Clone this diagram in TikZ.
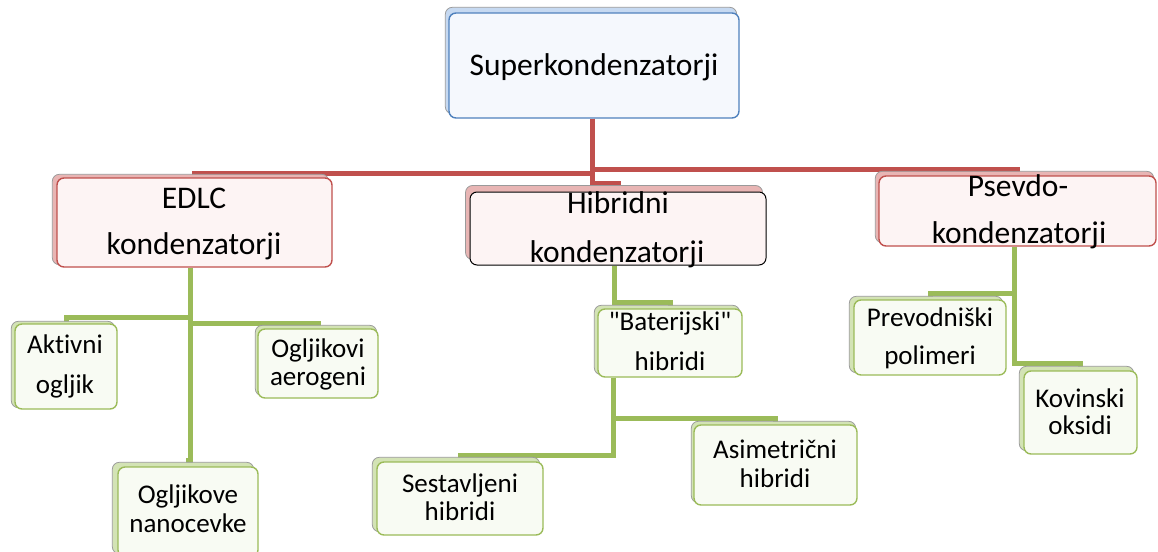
\documentclass[tikz,border=0pt]{standalone}
\usepackage{fontspec}
\setmainfont{Carlito}[Ligatures={TeXOff,NoCommon}]
\usetikzlibrary{calc}
\pgfdeclarelayer{lines}
\pgfdeclarelayer{backs}
\pgfsetlayers{lines,backs,main}
\definecolor{cred}{HTML}{C0504D}
\definecolor{cgreen}{HTML}{9BBB59}
\definecolor{cblue}{HTML}{4F81BD}
\definecolor{fblue}{HTML}{F5F8FD}
\definecolor{fred}{HTML}{FDF4F4}
\definecolor{fgreen}{HTML}{F8FBF3}
\definecolor{bblue}{HTML}{C6D9F1}
\definecolor{bred}{HTML}{E8B5B4}
\definecolor{bgreen}{HTML}{D3E3B5}
\definecolor{sgray}{HTML}{9A9A9A}
\tikzset{
  boxbase/.style={rectangle, rounded corners=7pt, inner sep=0pt, line width=1.4pt},
  bluebox/.style={boxbase, draw=cblue, fill=fblue},
  redbox/.style={boxbase, draw=cred, fill=fred},
  blackbox/.style={boxbase, draw=black, line width=1pt, fill=fred},
  greenbox/.style={boxbase, draw=cgreen, fill=fgreen},
  backbox/.style={rounded corners=7pt, draw=sgray, line width=0.8pt},
  bigtxt/.style={font=\fontsize{31.5}{31.5}\selectfont, anchor=base, inner sep=0pt},
  smalltxt/.style={font=\fontsize{27}{27}\selectfont, anchor=base, inner sep=0pt},
  rline/.style={draw=cred, line width=5pt},
  gline/.style={draw=cgreen, line width=5pt},
}
\newcommand{\backof}[3]{%
  \path[backbox, fill=#2] ($(#1.north west)+(#3)$) rectangle ($(#1.south east)+(#3)$);}
\begin{document}
\begin{tikzpicture}[x=1pt, y=-1pt]
\useasboundingbox (0,0) rectangle (1158,551);
% front boxes
\path
 node[bluebox, minimum width=290pt, minimum height=105pt] (sup) at (594,65.5) {}
 node[redbox, minimum width=275pt, minimum height=89pt] (edlc) at (194.5,222.5) {}
 node[blackbox, minimum width=296pt, minimum height=73pt] (hib) at (618,228.5) {}
 node[redbox, minimum width=277pt, minimum height=70pt] (psv) at (1017.5,211) {}
 node[greenbox, minimum width=102pt, minimum height=85pt] (akt) at (66,366.5) {}
 node[greenbox, minimum width=120pt, minimum height=69pt] (aer) at (318,363.5) {}
 node[greenbox, minimum width=140pt, minimum height=90pt] (nano) at (188,512) {}
 node[greenbox, minimum width=144pt, minimum height=68pt] (bat) at (670,343) {}
 node[greenbox, minimum width=166pt, minimum height=73pt] (ses) at (460,498.5) {}
 node[greenbox, minimum width=163pt, minimum height=80pt] (asi) at (775.5,465) {}
 node[greenbox, minimum width=152pt, minimum height=75pt] (prev) at (930,337.5) {}
 node[greenbox, minimum width=113pt, minimum height=83pt] (kov) at (1080.5,412.5) {};
% back (offset) boxes
\begin{pgfonlayer}{backs}
\backof{sup}{bblue}{-3,-5}
\backof{edlc}{bred}{-4,-3}
\backof{hib}{bred}{-4,-6}
\backof{psv}{bred}{-3,-4}
\backof{akt}{bgreen}{-3,-2}
\backof{aer}{bgreen}{-2,-3}
\backof{nano}{bgreen}{-5,-4}
\backof{bat}{bgreen}{-3,-3}
\backof{ses}{bgreen}{-4,-4}
\backof{asi}{bgreen}{-2,-3}
\backof{prev}{bgreen}{-4,-3}
\backof{kov}{bgreen}{-4,-4}
\end{pgfonlayer}
% connectors
\begin{pgfonlayer}{lines}
\draw[rline] ($(sup.south)+(-2,0)$) -- ++(0,55) -| (edlc.north);
\draw[rline] ($(sup.south)+(-2,0)$) -- ++(0,51) -| (psv.north);
\draw[rline] ($(sup.south)+(-2,0)$) -- ++(0,65) -| (hib.north);
\draw[gline] ($(edlc.south)+(-4,0)$) -- ++(0,50) -| (akt.north);
\draw[gline] ($(edlc.south)+(-4,0)$) -- ++(0,56) -| (aer.north);
\draw[gline] ($(edlc.south)+(-4,0)$) -- ++(0,193) -| (nano.north);
\draw[gline] ($(hib.south)+(-4,0)$) -- ++(0,37) -| (bat.north);
\draw[gline] ($(bat.south west)+(16,0)$) -- ++(0,41) -| (asi.north);
\draw[gline] ($(bat.south west)+(16,0)$) -- ++(0,78) -| (ses.north);
\draw[gline] ($(psv.south)+(-3,0)$) -- ++(0,47) -| (prev.north);
\draw[gline] ($(psv.south)+(-3,0)$) -- ++(0,117) -| (kov.north);
\end{pgfonlayer}
% texts
\node[bigtxt] (t-sup) at (594,75) {Superkondenzatorji};
\node[bigtxt] (t-edlc1) at (194,208) {EDLC};
\node[bigtxt] (t-edlc2) at (194,254) {kondenzatorji};
\node[bigtxt] (t-hib1) at (618,213) {Hibridni};
\node[bigtxt] (t-hib2) at (617,262) {kondenzatorji};
\node[bigtxt] (t-psv1) at (1018,196) {Psevdo-};
\node[bigtxt] (t-psv2) at (1019,243) {kondenzatorji};
\node[smalltxt] (t-akt1) at (65,353) {Aktivni};
\node[smalltxt] (t-akt2) at (65,393) {ogljik};
\node[smalltxt] (t-aer1) at (318,357) {Ogljikovi};
\node[smalltxt] (t-aer2) at (318,385) {aerogeni};
\node[smalltxt] (t-nano1) at (188,503) {Ogljikove};
\node[smalltxt] (t-nano2) at (188,532) {nanocevke};
\node[smalltxt] (t-bat1) at (670,330) {"Baterijski"};
\node[smalltxt] (t-bat2) at (670,370) {hibridi};
\node[smalltxt] (t-ses1) at (460,492) {Sestavljeni};
\node[smalltxt] (t-ses2) at (460,520) {hibridi};
\node[smalltxt] (t-asi1) at (775,458) {Asimetrični};
\node[smalltxt] (t-asi2) at (775,487) {hibridi};
\node[smalltxt] (t-prev1) at (930,326) {Prevodniški};
\node[smalltxt] (t-prev2) at (930,364) {polimeri};
\node[smalltxt] (t-kov1) at (1080,407) {Kovinski};
\node[smalltxt] (t-kov2) at (1080,434) {oksidi};
\end{tikzpicture}
\end{document}
